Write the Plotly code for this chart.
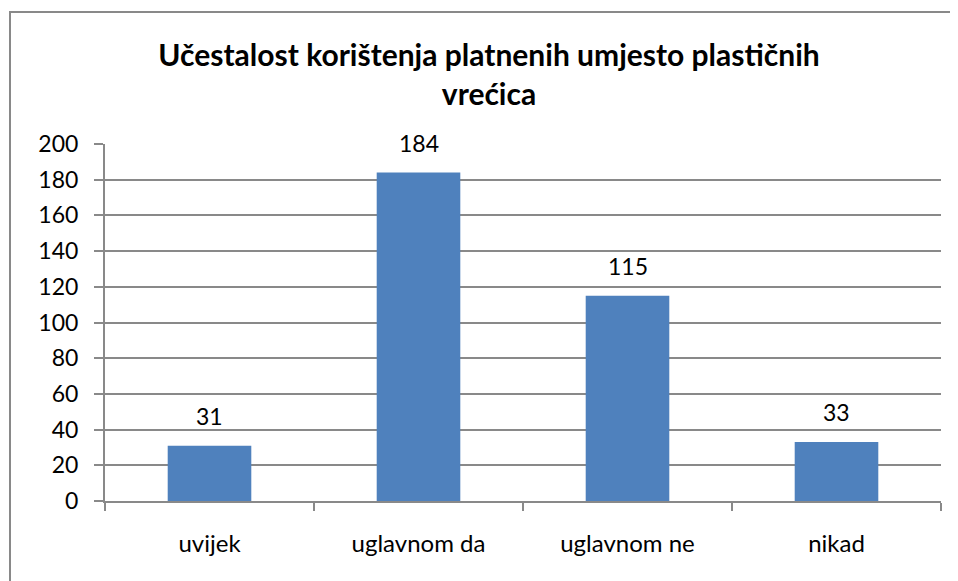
import plotly.graph_objects as go

categories = ["uvijek", "uglavnom da", "uglavnom ne", "nikad"]
values = [31, 184, 115, 33]
y_ticks = [0, 20, 40, 60, 80, 100, 120, 140, 160, 180, 200]
title_text = "Učestalost korištenja platnenih umjesto plastičnih<br>vrećica"

GRAY = "#898989"
FONT = "Lato"

# the page body adds an 8px offset; layout values below compensate for it
L, T, PW, PH = 97, 136, 836, 357

fig = go.Figure()
fig.add_trace(go.Bar(
    x=categories, y=values, width=0.4,
    marker=dict(color="#4F81BD", line=dict(width=0)),
    hoverinfo="x+y",
))

for c, v in zip(categories, values):
    fig.add_annotation(x=c, y=v, text=str(v), showarrow=False,
                       yanchor="middle", yshift=30,
                       font=dict(family=FONT, size=23, color="#000000"))

# outer chart border (left and top visible)
fig.add_shape(type="rect", xref="paper", yref="paper",
              x0=(2 - L) / PW, x1=2.0, y0=-1.0, y1=(T + PH - 4) / PH,
              line=dict(color=GRAY, width=2), fillcolor="rgba(0,0,0,0)", layer="below")

fig.update_layout(
    width=958, height=581,
    margin=dict(l=L, r=958 - L - PW, t=T, b=581 - T - PH, autoexpand=False),
    paper_bgcolor="white", plot_bgcolor="white",
    showlegend=False,
    title=dict(text=title_text, x=481 / 958, xanchor="center",
               y=1 - 58 / 581, yanchor="top",
               font=dict(family=FONT, size=30, color="#000000", weight="bold")),
    font=dict(family=FONT, size=22, color="#000000"),
    bargap=0.6,
)
fig.update_xaxes(
    type="category", showgrid=False, showline=True, linecolor=GRAY, linewidth=2,
    ticks="outside", tickson="boundaries", ticklen=8, tickwidth=2, tickcolor=GRAY,
    tickfont=dict(family=FONT, size=24), ticklabelstandoff=20,
    range=[-0.5, 3.5], automargin=False,
)
fig.update_yaxes(
    range=[0, 200], tickvals=y_ticks, ticktext=[str(t) for t in y_ticks],
    showgrid=True, gridcolor=GRAY, gridwidth=1.5,
    showline=True, linecolor=GRAY, linewidth=2,
    ticks="outside", ticklen=9, tickwidth=2, tickcolor=GRAY,
    tickfont=dict(family=FONT, size=23), ticklabelstandoff=11,
    zeroline=False, automargin=False,
)

fig.write_html("out.html")
